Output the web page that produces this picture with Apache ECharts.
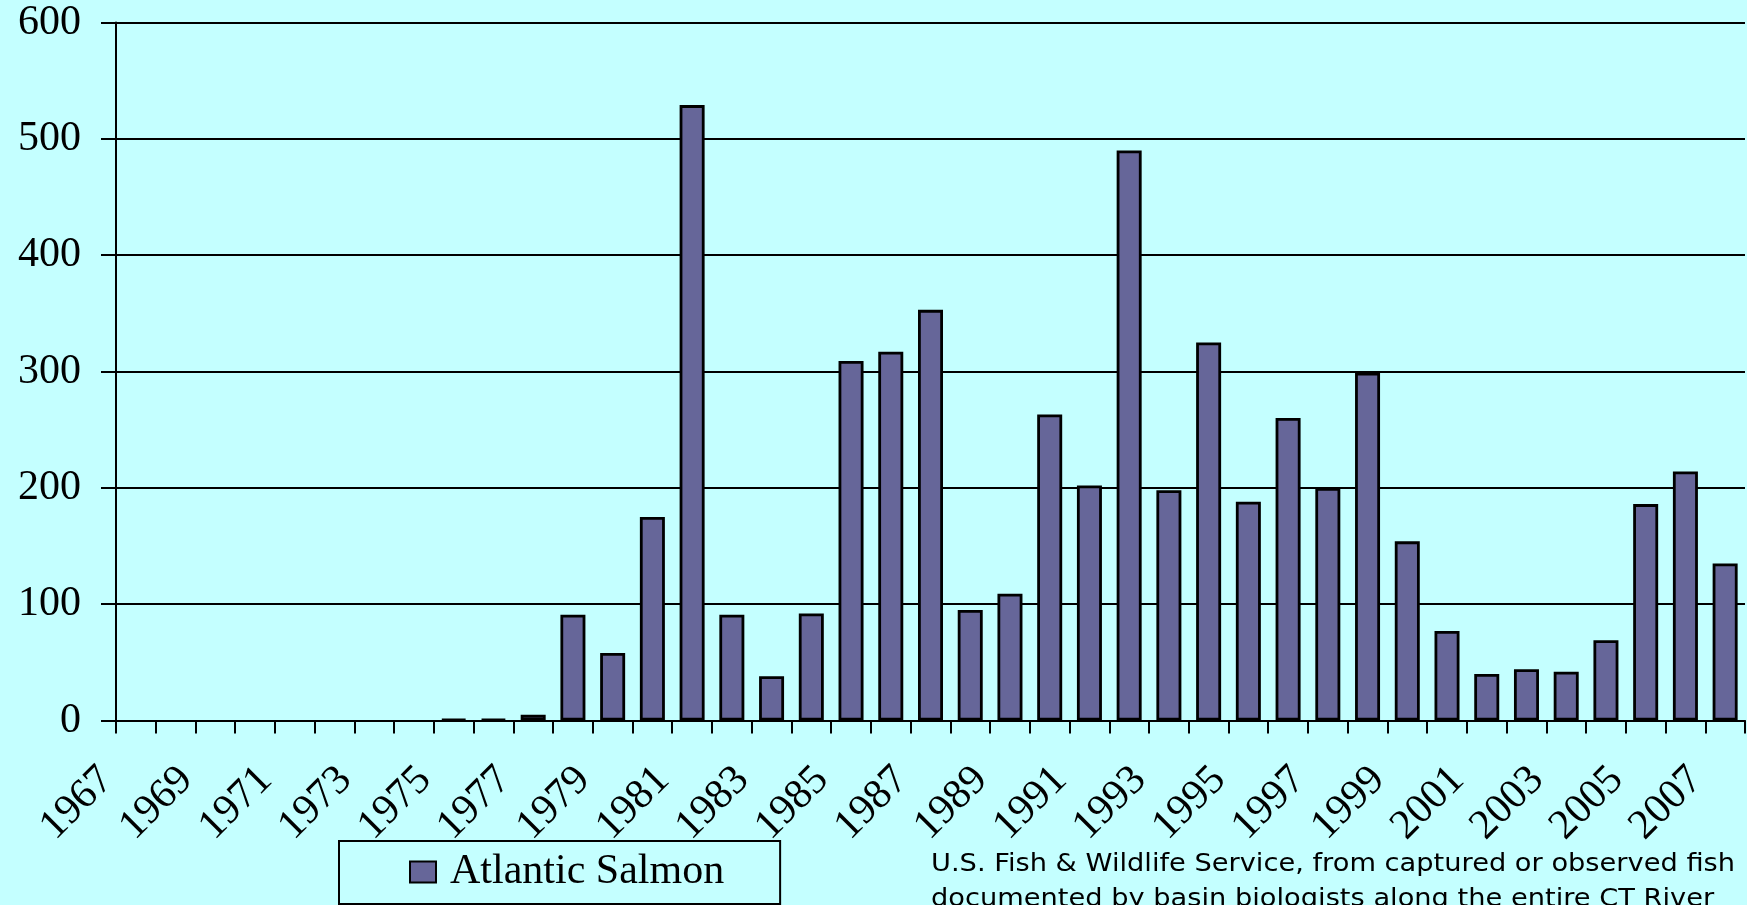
<!DOCTYPE html>
<html lang="en">
<head>
    <meta charset="UTF-8">
    <title>Atlantic Salmon</title>
    <script src="https://cdn.jsdelivr.net/npm/echarts@6.0.0/dist/echarts.min.js"></script>
    <style>
        html, body { margin: 0; padding: 0; background: #c4ffff; }
        #salmonChart { width: 1747px; height: 905px; }
    </style>
</head>
<body>
<div id="salmonChart"></div>

<script type="text/javascript">
    // years on the category axis
    var years = ['1967', '1968', '1969', '1970', '1971', '1972', '1973', '1974', '1975', '1976',
                 '1977', '1978', '1979', '1980', '1981', '1982', '1983', '1984', '1985', '1986',
                 '1987', '1988', '1989', '1990', '1991', '1992', '1993', '1994', '1995', '1996',
                 '1997', '1998', '1999', '2000', '2001', '2002', '2003', '2004', '2005', '2006',
                 '2007'];

    // fish counted each year
    var salmon = [0, 0, 0, 0, 0, 0, 0, 0, 1, 1,
                  5, 91, 58, 175, 529, 91, 38, 92, 309, 317,
                  353, 95, 109, 263, 202, 490, 198, 325, 188, 260,
                  200, 299, 154, 77, 40, 44, 42, 69, 186, 214,
                  135];

    var seriesName = 'Atlantic Salmon';
    var sourceLines = ['U.S. Fish & Wildlife Service, from captured or observed fish',
                       'documented by basin biologists along the entire CT River'];

    var serif = 'Liberation Serif';

    // empty years get no outline, like in the original
    var barData = salmon.map(function(v) {
        if (v === 0) {
            return { value: v, itemStyle: { borderWidth: 0 } };
        }
        return v;
    });

    var salmonChart = echarts.init(document.getElementById('salmonChart'));

    salmonChart.setOption({
        backgroundColor: '#c4ffff',
        animation: false,
        grid: {
            left: 116,
            top: 22.5,
            width: 1629,
            height: 698,
            containLabel: false,
            outerBoundsMode: 'none'
        },
        legend: {
            left: 339,
            top: 841,
            padding: [10, 56, 11, 70],
            borderColor: '#000',
            borderWidth: 2,
            itemWidth: 26,
            itemHeight: 21,
            icon: 'rect',
            data: [seriesName],
            textStyle: {
                fontFamily: serif,
                fontSize: 42,
                color: '#000',
                padding: [0, 0, 0, 9]
            }
        },
        xAxis: {
            type: 'category',
            data: years,
            boundaryGap: true,
            axisLine: { lineStyle: { color: '#000', width: 2 } },
            axisTick: { show: true, interval: 0, length: 13, lineStyle: { color: '#000', width: 2 } },
            axisLabel: {
                interval: 1,
                rotate: 45,
                margin: 24,
                padding: [0, 41, 0, 0],
                fontFamily: serif,
                fontSize: 42,
                color: '#000'
            },
            splitLine: { show: false }
        },
        yAxis: {
            type: 'value',
            min: 0,
            max: 600,
            interval: 100,
            axisLine: { show: true, lineStyle: { color: '#000', width: 2 } },
            axisTick: { show: true, length: 15, lineStyle: { color: '#000', width: 2 } },
            axisLabel: {
                margin: 35,
                fontFamily: serif,
                fontSize: 42,
                color: '#000'
            },
            splitLine: { show: true, lineStyle: { color: '#000', width: 2 } }
        },
        series: [{
            name: seriesName,
            type: 'bar',
            data: barData,
            barWidth: 25,
            itemStyle: {
                color: '#666699',
                borderColor: '#000',
                borderWidth: 2.8
            }
        }],
        graphic: [{
            type: 'text',
            x: 931,
            y: 864,
            scaleX: 1.09,
            style: {
                text: sourceLines[0],
                font: '25px "DejaVu Sans"',
                fill: '#000',
                verticalAlign: 'middle'
            }
        }, {
            type: 'text',
            x: 931,
            y: 899,
            scaleX: 1.09,
            style: {
                text: sourceLines[1],
                font: '25px "DejaVu Sans"',
                fill: '#000',
                verticalAlign: 'middle'
            }
        }]
    });
</script>
</body>
</html>
